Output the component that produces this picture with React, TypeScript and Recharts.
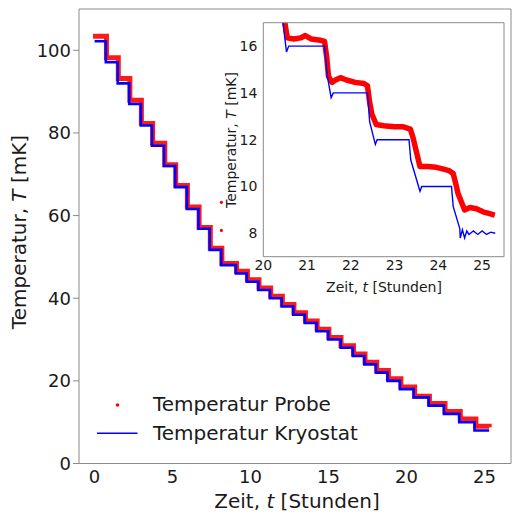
import React from "react";
import { ComposedChart, Line, Scatter, XAxis, YAxis, Legend } from "recharts";

// Hauptdiagramm: Stufen (Beginn der Stufe in Stunden, Temperatur in mK)
const kryoTimes = [0, 0.72, 1.48, 2.22, 2.97, 3.68, 4.45, 5.17, 5.92, 6.66, 7.38, 8.12, 9.06, 9.76, 10.5, 11.25, 12.0, 12.74, 13.48, 14.23, 14.98, 15.78, 16.56, 17.3, 18.04, 18.78, 19.58, 20.46, 21.42, 22.4, 23.38, 24.36, 25.3];
const kryoLevels = [102.2, 97.1, 92.0, 87.0, 81.8, 76.9, 72.0, 66.9, 61.6, 56.8, 51.7, 48.0, 46.0, 44.0, 42.0, 40.0, 38.0, 36.0, 34.0, 32.0, 30.0, 28.0, 26.0, 24.0, 22.0, 20.0, 18.0, 16.0, 14.0, 12.0, 10.0, 8.0, 8.0];
const probeTimes = [-0.1, 0.76, 1.52, 2.26, 3.0, 3.72, 4.5, 5.2, 5.95, 6.7, 7.42, 8.16, 9.1, 9.8, 10.54, 11.29, 12.04, 12.78, 13.52, 14.27, 15.02, 15.8, 16.6, 17.34, 18.09, 18.84, 19.64, 20.52, 21.47, 22.47, 23.45, 24.45, 25.3];
const probeLevels = [103.4, 98.2, 93.2, 87.9, 82.3, 77.5, 72.3, 67.3, 62.1, 57.1, 52.1, 48.4, 46.5, 44.5, 42.5, 40.5, 38.5, 36.5, 34.5, 32.5, 30.5, 28.5, 26.5, 24.5, 22.5, 20.5, 18.5, 16.3, 14.5, 12.6, 10.8, 9.0, 8.8];
const outlierTimes = [8.13, 8.13];
const outlierLevels = [63.2, 56.4];

// Ausschnitt 20-25.3 h
const insetKryoT = [20.4, 20.45, 20.53, 20.58, 21.4, 21.46, 21.55, 21.6, 22.38, 22.43, 22.56, 22.6, 23.33, 23.37, 23.58, 23.62, 24.3, 24.34, 24.49, 24.5, 24.55, 24.6, 24.65, 24.7, 24.8, 24.9, 25.0, 25.1, 25.2, 25.3];
const insetKryoV = [17.8, 17.0, 15.75, 16.0, 16.0, 14.76, 13.8, 14.0, 14.0, 12.77, 11.8, 12.0, 12.0, 11.13, 9.8, 10.0, 10.0, 9.14, 8.2, 7.8, 8.15, 7.8, 8.1, 7.95, 8.1, 7.95, 8.1, 7.95, 8.05, 8.0];
const insetProbeT = [20.45, 20.5, 20.55, 20.7, 20.85, 20.96, 21.1, 21.3, 21.4, 21.45, 21.49, 21.57, 21.65, 21.76, 21.9, 22.1, 22.3, 22.38, 22.43, 22.48, 22.58, 22.75, 23.0, 23.2, 23.36, 23.42, 23.47, 23.58, 23.75, 23.95, 24.1, 24.24, 24.34, 24.4, 24.45, 24.6, 24.72, 24.87, 25.02, 25.15, 25.29];
const insetProbeV = [17.5, 16.9, 16.35, 16.3, 16.35, 16.45, 16.3, 16.25, 16.2, 15.5, 14.7, 14.45, 14.55, 14.65, 14.55, 14.45, 14.4, 14.3, 13.6, 13.1, 12.65, 12.6, 12.55, 12.55, 12.45, 12.1, 11.7, 10.85, 10.85, 10.82, 10.75, 10.68, 10.55, 10.1, 9.7, 9.0, 9.1, 9.05, 8.92, 8.85, 8.78];

const mainXTicks = [0, 5, 10, 15, 20, 25];
const mainYTicks = [0, 20, 40, 60, 80, 100];
const insetXTicks = [20, 21, 22, 23, 24, 25];
const insetYTicks = [8, 10, 12, 14, 16];

const kryoSteps = kryoTimes.map((t, i) => ({ t, T: kryoLevels[i] }));
const probeSteps = probeTimes.map((t, i) => ({ t, T: probeLevels[i] }));
const outliers = outlierTimes.map((t, i) => ({ t, T: outlierLevels[i] }));
const insetKryo = insetKryoT.map((t, i) => ({ t, T: insetKryoV[i] }));
const insetProbe = insetProbeT.map((t, i) => ({ t, T: insetProbeV[i] }));

const FONT = "DejaVu Sans";
const FRAME = "#8a8a8a";
const TEXT = "#1a1a1a";
const RED = "#ff0000";
const BLUE = "#0000ff";

const renderLegend = () => (
  <svg width={320} height={60}>
    <circle cx={27.5} cy={15} r={1.8} fill={RED} />
    <text x={63} y={21} fontFamily={FONT} fontSize={20} fill={TEXT}>Temperatur Probe</text>
    <line x1={7} x2={47.5} y1={43.3} y2={43.3} stroke={BLUE} strokeWidth={1.5} />
    <text x={63} y={50} fontFamily={FONT} fontSize={20} fill={TEXT}>Temperatur Kryostat</text>
  </svg>
);

const mainXLabel = () => (
  <text x={297} y={508} textAnchor="middle" fontFamily={FONT} fontSize={20} fill={TEXT}>
    <tspan>Zeit, </tspan>
    <tspan fontStyle="italic">t</tspan>
    <tspan> [Stunden]</tspan>
  </text>
);

const mainYLabel = () => (
  <text x={19} y={232} transform="rotate(-90 19 232)" textAnchor="middle" dominantBaseline="central" fontFamily={FONT} fontSize={20} fill={TEXT}>
    <tspan>Temperatur, </tspan>
    <tspan fontStyle="italic">T</tspan>
    <tspan> [mK]</tspan>
  </text>
);

const insetXLabel = () => (
  <text x={384} y={292} textAnchor="middle" fontFamily={FONT} fontSize={14} fill={TEXT}>
    <tspan>Zeit, </tspan>
    <tspan fontStyle="italic">t</tspan>
    <tspan> [Stunden]</tspan>
  </text>
);

const insetYLabel = () => (
  <text x={231} y={140} transform="rotate(-90 231 140)" textAnchor="middle" dominantBaseline="central" fontFamily={FONT} fontSize={14} fill={TEXT}>
    <tspan>Temperatur, </tspan>
    <tspan fontStyle="italic">T</tspan>
    <tspan> [mK]</tspan>
  </text>
);

const dot = (props: any) => <circle cx={props.cx} cy={props.cy} r={1.6} fill={RED} />;

export default function App() {
  return (
    <div style={{ position: "absolute", left: 0, top: 0, width: 512, height: 514, background: "#fff" }}>
      <ComposedChart width={512} height={514} margin={{ top: 9, right: 1, bottom: 0, left: 0 }}>
        <XAxis xAxisId="x" type="number" dataKey="t" domain={[-1, 26.7]} ticks={mainXTicks} allowDataOverflow
          height={50.5} tickLine={false} tickSize={0} tickMargin={7} stroke={FRAME}
          tick={{ fill: TEXT, fontSize: 18, fontFamily: FONT }} label={mainXLabel} />
        <XAxis xAxisId="xin" type="number" domain={[-1, 26.7]} ticks={mainXTicks} allowDataOverflow mirror
          orientation="bottom" tick={false} tickSize={5.5} axisLine={false} stroke={FRAME} />
        <XAxis xAxisId="xtop" type="number" domain={[-1, 26.7]} ticks={mainXTicks} allowDataOverflow mirror
          orientation="top" tick={false} tickSize={6} stroke={FRAME} />
        <YAxis yAxisId="y" type="number" dataKey="T" domain={[0, 110]} ticks={mainYTicks} allowDataOverflow
          width={79} tickSize={6} tickMargin={2} stroke={FRAME}
          tick={{ fill: TEXT, fontSize: 18, fontFamily: FONT }} label={mainYLabel} />
        <YAxis yAxisId="yin" type="number" domain={[0, 110]} ticks={mainYTicks} allowDataOverflow mirror
          orientation="left" tick={false} tickSize={6} axisLine={false} stroke={FRAME} />
        <YAxis yAxisId="yright" type="number" domain={[0, 110]} ticks={mainYTicks} allowDataOverflow mirror
          orientation="right" tick={false} tickSize={6} stroke={FRAME} />
        <Line xAxisId="x" yAxisId="y" data={probeSteps} dataKey="T" type="stepAfter" stroke={RED}
          strokeWidth={5} strokeOpacity={0.9} dot={false} isAnimationActive={false} />
        <Scatter xAxisId="x" yAxisId="y" data={outliers} dataKey="T" fill={RED} shape={dot} isAnimationActive={false} />
        <Line xAxisId="x" yAxisId="y" data={kryoSteps} dataKey="T" type="stepAfter" stroke={BLUE}
          strokeWidth={2.6} dot={false} isAnimationActive={false} />
        <Legend layout="vertical" align="center" verticalAlign="middle" content={renderLegend}
          wrapperStyle={{ position: "absolute", left: 90, top: 390, width: 320, height: 60 }} />
      </ComposedChart>

      <div style={{ position: "absolute", left: 0, top: 0 }}>
        <ComposedChart width={512} height={300} margin={{ top: 22.7, right: 8, bottom: 0, left: 223.3 }}>
          <XAxis xAxisId="x" type="number" dataKey="t" domain={[20, 25.5]} ticks={insetXTicks} allowDataOverflow
            height={43.3} tickLine={false} tickSize={0} tickMargin={3} stroke={FRAME}
            tick={{ fill: TEXT, fontSize: 14, fontFamily: FONT }} label={insetXLabel} />
          <XAxis xAxisId="xin" type="number" domain={[20, 25.5]} ticks={insetXTicks} allowDataOverflow mirror
            orientation="bottom" tick={false} tickSize={4} axisLine={false} stroke={FRAME} />
          <XAxis xAxisId="xtop" type="number" domain={[20, 25.5]} allowDataOverflow mirror
            orientation="top" tick={false} tickLine={false} stroke={FRAME} />
          <YAxis yAxisId="y" type="number" dataKey="T" domain={[7, 17]} ticks={insetYTicks} allowDataOverflow
            width={40} tickLine={false} tickSize={0} tickMargin={6} stroke={FRAME}
            tick={{ fill: TEXT, fontSize: 14, fontFamily: FONT }} label={insetYLabel} />
          <YAxis yAxisId="yin" type="number" domain={[7, 17]} ticks={insetYTicks} allowDataOverflow mirror
            orientation="left" tick={false} tickSize={4} axisLine={false} stroke={FRAME} />
          <YAxis yAxisId="yright" type="number" domain={[7, 17]} allowDataOverflow mirror
            orientation="right" tick={false} tickLine={false} stroke={FRAME} />
          <Line xAxisId="x" yAxisId="y" data={insetProbe} dataKey="T" type="linear" stroke={RED}
            strokeWidth={5.5} strokeLinejoin="round" dot={false} isAnimationActive={false} />
          <Line xAxisId="x" yAxisId="y" data={insetKryo} dataKey="T" type="linear" stroke={BLUE}
            strokeWidth={1.4} dot={false} isAnimationActive={false} />
        </ComposedChart>
      </div>
    </div>
  );
}
